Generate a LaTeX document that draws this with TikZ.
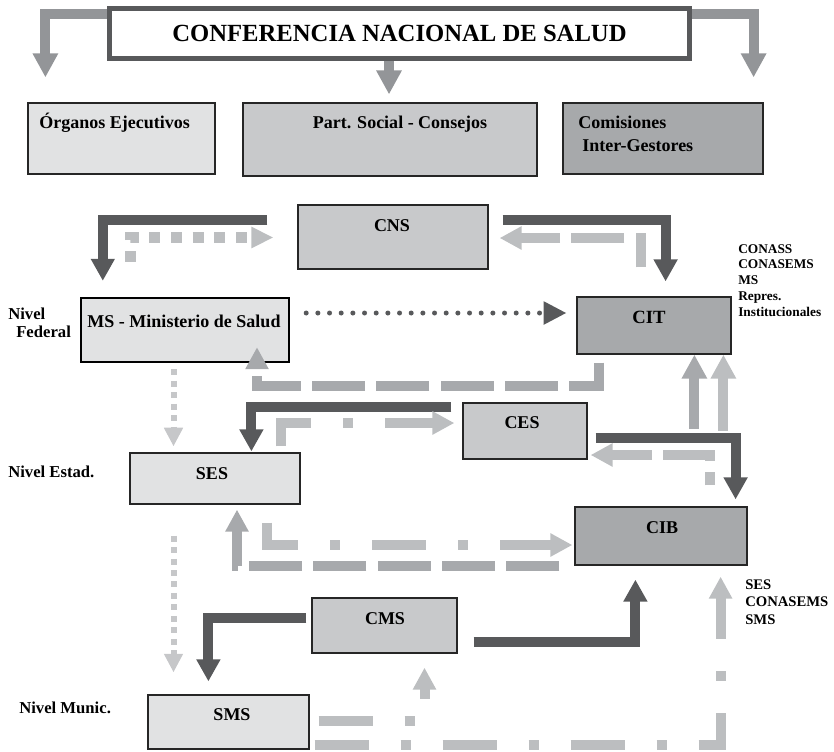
\documentclass[tikz,border=0pt]{standalone}
\usepackage{fontspec}
\setmainfont{Liberation Serif}
\usepackage{tikz}
\usetikzlibrary{calc}
\usetikzlibrary{arrows.meta}
\usepackage{xcolor}
\definecolor{darkline}{HTML}{58595B}
\definecolor{midline}{HTML}{A7A9AC}
\definecolor{lightline}{HTML}{BCBEC0}
\definecolor{paleline}{HTML}{C6C7C9}
\definecolor{topline}{HTML}{939598}
\definecolor{boxlight}{HTML}{E1E2E3}
\definecolor{boxmid}{HTML}{C8C9CB}
\definecolor{boxdark}{HTML}{A7A9AB}
\newcommand{\pxu}{0.75pt}

\begin{document}
\begin{tikzpicture}[x=0.75pt, y=-0.75pt]
    \tikzstyle{box}=[draw=black!85, line width=0.9pt, inner sep=0pt]
    \tikzstyle{lightbox}=[box, fill=boxlight]
    \tikzstyle{midbox}=[box, fill=boxmid]
    \tikzstyle{darkbox}=[box, fill=boxdark]
    \tikzstyle{titlebox}=[draw=darkline, line width=3.75pt, fill=white, inner sep=0pt, font=\fontsize{18.5}{22}\selectfont\bfseries]
    \tikzstyle{lbl}=[inner sep=0pt, font=\fontsize{13.5}{17.25}\selectfont\bfseries]
    \tikzstyle{lvl}=[inner sep=0pt, font=\fontsize{12.5}{13.5}\selectfont\bfseries]
    \tikzstyle{members}=[inner sep=0pt, font=\fontsize{10}{11.8}\selectfont\bfseries]
    \tikzstyle{members2}=[inner sep=0pt, font=\fontsize{11}{13.1}\selectfont\bfseries]
    \tikzstyle{toparr}=[draw=topline, line width=7.5pt, -{Triangle[width=18pt,length=18pt]}]
    \tikzstyle{heavyarr}=[draw=darkline, line width=7.5pt, -{Triangle[width=17pt,length=16.5pt]}]
    \tikzstyle{dashmid}=[draw=midline, line width=7.5pt, dash pattern=on 39.75pt off 8.5pt, -{Triangle[width=16.5pt,length=16.5pt]}]
    \tikzstyle{dashlight}=[draw=lightline, line width=7.5pt, dash pattern=on 39.75pt off 8.5pt, -{Triangle[width=16.5pt,length=16.5pt]}]
    \tikzstyle{dashdotarr}=[draw=lightline, line width=7.5pt, dash pattern=on 40.5pt off 24pt on 7.5pt off 24pt, -{Triangle[width=16.5pt,length=16.5pt]}]
    \tikzstyle{uparrmid}=[draw=midline, line width=7.5pt, -{Triangle[width=18pt,length=18pt]}]
    \tikzstyle{uparrlight}=[draw=lightline, line width=7.5pt, -{Triangle[width=18pt,length=18pt]}]
    \tikzstyle{squaredots}=[draw=lightline, line width=8.25pt, dash pattern=on 8.25pt off 8pt, -{Triangle[width=15pt,length=16.5pt]}]
    \tikzstyle{finedots}=[draw=paleline, line width=4.5pt, dash pattern=on 4.5pt off 4.1pt, -{Triangle[width=13.5pt,length=14pt]}]
    \tikzstyle{rounddots}=[draw=darkline, line width=3.75pt, line cap=round, dash pattern=on 0pt off 8.75pt, -{Triangle[width=16.5pt,length=17pt]}]
    \useasboundingbox (0,0) rectangle (834,751);
    % conferencia y organos
    \node[titlebox, minimum width=580*\pxu, minimum height=50*\pxu] (conf) at (399.5,33.5) {CONFERENCIA NACIONAL DE SALUD};
    \node[lightbox, minimum width=187*\pxu, minimum height=71*\pxu] (org) at (121.5,138.5) {};
    \node[midbox, minimum width=294*\pxu, minimum height=73*\pxu] (part) at (390,139.5) {};
    \node[darkbox, minimum width=200*\pxu, minimum height=71*\pxu] (cig) at (663,138.5) {};
    \node[lbl, anchor=base west] (orglbl) at (39,128) {Órganos Ejecutivos};
    \node[lbl, anchor=base] (partlbl) at (400,128) {Part. Social - Consejos};
    \node[lbl, anchor=base west, align=left] (ciglbl) at (578,151) {Comisiones\\\hspace*{3pt}Inter-Gestores};
    % nivel federal
    \node[midbox, minimum width=190*\pxu, minimum height=64*\pxu] (cns) at (393,237) {};
    \node[lightbox, draw=black, line width=1.8pt, minimum width=208*\pxu, minimum height=64*\pxu] (ms) at (185,330) {};
    \node[darkbox, minimum width=154*\pxu, minimum height=57*\pxu] (cit) at (654,325.5) {};
    \node[lbl, anchor=base] (cnslbl) at (392,231) {CNS};
    \node[lbl, anchor=base] (mslbl) at (184,327) {MS - Ministerio de Salud};
    \node[lbl, anchor=base, font=\fontsize{14}{16}\selectfont\bfseries] (citlbl) at (649,323) {CIT};
    % nivel estadual
    \node[midbox, minimum width=124*\pxu, minimum height=56*\pxu] (ces) at (525,431) {};
    \node[lightbox, minimum width=170*\pxu, minimum height=51*\pxu] (ses) at (215,478.5) {};
    \node[darkbox, minimum width=172*\pxu, minimum height=58*\pxu] (cib) at (661,536) {};
    \node[lbl, anchor=base] (ceslbl) at (522,428) {CES};
    \node[lbl, anchor=base] (seslbl) at (212,479) {SES};
    \node[lbl, anchor=base] (ciblbl) at (662,533) {CIB};
    % nivel municipal
    \node[midbox, minimum width=145*\pxu, minimum height=55*\pxu] (cms) at (384.5,625.5) {};
    \node[lightbox, minimum width=161*\pxu, minimum height=54*\pxu] (sms) at (228.5,722) {};
    \node[lbl, anchor=base] (cmslbl) at (385,624) {CMS};
    \node[lbl, anchor=base] (smslbl) at (232,720) {SMS};
    % rotulos
    \node[lvl, anchor=base west, align=left] (federal) at (8,337) {Nivel\\\hspace*{6pt}Federal};
    \node[lvl, anchor=base west] (estad) at (8,477) {Nivel Estad.};
    \node[lvl, anchor=base west] (munic) at (19,713) {Nivel Munic.};
    \node[members, anchor=base west, align=left] (citmembers) at (738,316) {CONASS\\CONASEMS\\MS\\Repres.\\Institucionales};
    \node[members2, anchor=base west, align=left] (cibmembers) at (745,624) {SES\\CONASEMS\\SMS};
    % flechas de la conferencia
    \draw[toparr] ($(conf.north west)+(0,7.5)$) -| ($(org.north west)+(18,-25)$);
    \draw[toparr] ($(conf.north east)+(0,7.5)$) -| ($(cig.north east)+(-10,-25)$);
    \draw[toparr] ($(conf.south)+(-10.5,0)$) -- ($(part.north)+(-1,-8)$);
    % federal
    \draw[heavyarr] ($(cns.west)+(-30,-17.5)$) -| ($(ms.north west)+(23,-16)$);
    \draw[squaredots] ($(ms.north west)+(50.5,-35)$) |- ($(cns.west)+(-24,0.5)$);
    \draw[heavyarr] ($(cns.east)+(14,-17.5)$) -| ($(cit.north east)+(-66,-15)$);
    \draw[dashlight, dash phase=13.5pt] ($(cit.north west)+(65,-29)$) |- ($(cns.east)+(11,1)$);
    \draw[rounddots] ($(ms.east)+(16,-17)$) -- ($(cit.west)+(-10,-12.5)$);
    \draw[dashmid] ($(cit.south west)+(23,8)$) -- ($(cit.south west)+(23,31)$) -| ($(ms.south)+(72,-16)$);
    % estadual
    \draw[heavyarr] ($(ces.north west)+(-11,5)$) -| ($(ses.north west)+(122,-1)$);
    \draw[dashdotarr] ($(ses.north east)+(-20,-6)$) |- ($(ces.west)+(-8,-8)$);
    \draw[uparrmid] ($(cit.south west)+(118,74)$) -- ($(cit.south west)+(118,0)$);
    \draw[uparrlight] ($(cit.south west)+(147,76)$) -- ($(cit.south west)+(147,0)$);
    \draw[heavyarr] ($(ces.east)+(8,7)$) -| ($(cib.north east)+(-12,-7)$);
    \draw[dashlight, dash phase=30pt] ($(cib.north west)+(136,-21)$) |- ($(ces.east)+(3,24)$);
    \draw[dashmid] ($(cib.south west)+(-15,0)$) -| ($(ses.south)+(22,5)$);
    \draw[dashdotarr] ($(ses.south east)+(-34,18)$) |- ($(cib.west)+(-2,9)$);
    \draw[finedots] ($(ms.south)+(-11.5,6)$) -- ($(ses.north)+(-41.5,-6)$);
    \draw[finedots] ($(ses.south)+(-41.5,31)$) -- ($(sms.north)+(-55,-22)$);
    % municipal
    \draw[heavyarr] ($(cms.west)+(-5,-7.5)$) -| ($(sms.north west)+(61,-13)$);
    \draw[heavyarr] ($(cms.east)+(16,16.5)$) -| ($(cib.south west)+(61,14)$);
    \draw[dashdotarr] ($(sms.east)+(9,-1)$) -| ($(cms.south)+(40,14)$);
    \draw[dashdotarr] ($(sms.south east)+(5,-5)$) -| ($(cib.south east)+(-27,11)$);
\end{tikzpicture}
\end{document}
